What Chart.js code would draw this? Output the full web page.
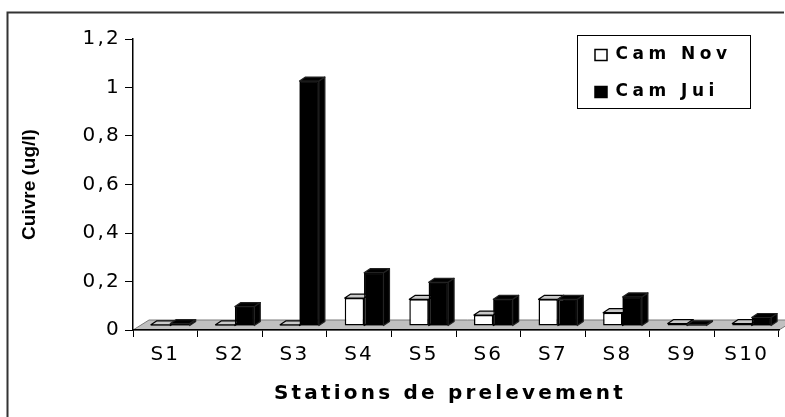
<!DOCTYPE html>
<html><head><meta charset="utf-8">
<script src="https://cdn.jsdelivr.net/npm/chart.js@4.4.1/dist/chart.umd.min.js"></script>
<style>html,body{margin:0;padding:0;background:#fff;overflow:hidden}#wrap{width:785px;height:417px;position:relative}</style>
</head><body><div id="wrap"><canvas id="c" width="785" height="417"></canvas></div>
<script>
const categories = ['S1','S2','S3','S4','S5','S6','S7','S8','S9','S10'];
const camNov = [0.005, 0.005, 0.005, 0.115, 0.11, 0.045, 0.11, 0.055, 0.01, 0.01];
const camJui = [0.01, 0.08, 1.01, 0.22, 0.18, 0.11, 0.11, 0.12, 0.005, 0.035];
const seriesNames = ['Cam Nov', 'Cam Jui'];
const yTicks = [0, 0.2, 0.4, 0.6, 0.8, 1, 1.2];
const xTitle = 'Stations de prelevement';
const yTitle = 'Cuivre (ug/l)';

const canvas = document.getElementById('c');
const ctx = canvas.getContext('2d');
// emulate the horizontally widened lettering of the original
const origFill = ctx.fillText;
ctx.fillText = function (text, x, y) {
  const prev = this.letterSpacing;
  let sp = '2.2px';
  if (text === yTitle) sp = '0px';
  else if (text === xTitle) { sp = '3.2px'; x -= 6; }
  else if (/bold/.test(this.font)) sp = '4.5px';
  this.letterSpacing = sp;
  origFill.call(this, text, x, y);
  this.letterSpacing = prev;
};

const fmt = v => (Math.round(v * 10) / 10).toString().replace('.', ',');
const SHIFT = {dx: 5, dy: -4};
const DEPTH = {dx: 6, dy: -4};
const FLOOR = {dx: 16, dy: -10};
const faceStyles = [
  {top: '#c8c8c8', side: '#ffffff', stroke: '#000000'},
  {top: '#000000', side: '#000000', stroke: '#222222'}
];

function drawFaces(c, el, st) {
  const p = el.getProps(['x', 'y', 'base', 'width'], true);
  const l = p.x - p.width / 2, r = p.x + p.width / 2;
  const t = Math.min(p.y, p.base), b = Math.max(p.y, p.base);
  c.strokeStyle = st.stroke;
  c.beginPath();
  c.moveTo(r, t); c.lineTo(r + DEPTH.dx, t + DEPTH.dy); c.lineTo(r + DEPTH.dx, b + DEPTH.dy); c.lineTo(r, b); c.closePath();
  c.fillStyle = st.side; c.fill(); c.stroke();
  c.beginPath();
  c.moveTo(l, t); c.lineTo(l + DEPTH.dx, t + DEPTH.dy); c.lineTo(r + DEPTH.dx, t + DEPTH.dy); c.lineTo(r, t); c.closePath();
  c.fillStyle = st.top; c.fill(); c.stroke();
}

const excel3d = {
  id: 'excel3d',
  afterLayout(chart) {
    const L = chart.legend;
    if (!L) return;
    L.left = 575; L.top = 26.5;
    L.width = 205; L.height = 100;
    L.right = L.left + L.width; L.bottom = L.top + L.height;
  },
  beforeDraw(chart) {
    const c = chart.ctx, a = chart.chartArea;
    c.save();
    c.strokeStyle = '#333'; c.lineWidth = 2;
    c.beginPath(); c.moveTo(7.5, 417); c.lineTo(7.5, 12.5); c.lineTo(784, 12.5); c.stroke();
    const y0 = chart.scales.y.getPixelForValue(0);
    c.beginPath();
    c.moveTo(a.left, y0);
    c.lineTo(a.left + FLOOR.dx, y0 + FLOOR.dy);
    c.lineTo(a.right + FLOOR.dx, y0 + FLOOR.dy);
    c.lineTo(a.right, y0);
    c.closePath();
    c.fillStyle = '#c0c0c0'; c.fill();
    c.strokeStyle = '#7a7a7a'; c.lineWidth = 1; c.stroke();
    c.restore();
  },
  beforeDatasetsDraw(chart) {
    chart.ctx.save();
    chart.ctx.translate(SHIFT.dx, SHIFT.dy);
  },
  afterDatasetsDraw(chart) {
    const c = chart.ctx;
    const m0 = chart.getDatasetMeta(0), m1 = chart.getDatasetMeta(1);
    m0.data.forEach((el, i) => {
      c.save(); c.lineWidth = 1.2; c.lineJoin = 'round'; drawFaces(c, el, faceStyles[0]); c.restore();
      const el1 = m1.data[i];
      if (el1) {
        el1.draw(c);
        c.save(); c.lineWidth = 1.2; c.lineJoin = 'round'; drawFaces(c, el1, faceStyles[1]); c.restore();
      }
    });
    c.restore();
  },
  afterDraw(chart) {
    const L = chart.legend, c = chart.ctx;
    c.save();
    c.strokeStyle = '#000'; c.lineWidth = 1;
    c.strokeRect(Math.round(L.left + 2) + 0.5, Math.round(L.top + 8.5) + 0.5, 173, 73);
    c.restore();
  }
};

new Chart(canvas, {
  type: 'bar',
  data: {
    labels: categories,
    datasets: [
      {label: seriesNames[0], data: camNov, backgroundColor: '#ffffff', borderColor: '#000000', borderWidth: 1.5, borderSkipped: false},
      {label: seriesNames[1], data: camJui, backgroundColor: '#000000', borderColor: '#000000', borderWidth: 1.5, borderSkipped: false}
    ]
  },
  options: {
    responsive: false,
    devicePixelRatio: 1,
    animation: false,
    categoryPercentage: 0.6,
    barPercentage: 1.0,
    layout: {padding: {top: 39, right: 6, left: 0, bottom: 0}},
    plugins: {
      legend: {
        position: 'chartArea', align: 'start',
        labels: {boxWidth: 12, boxHeight: 11, padding: 20, color: '#000',
          font: {family: 'DejaVu Sans', size: 17, weight: 'bold'}}
      },
      tooltip: {enabled: false}
    },
    scales: {
      x: {
        grid: {display: true, drawOnChartArea: false, drawTicks: true, tickLength: 7, color: '#000', lineWidth: 1, offset: true},
        border: {display: true, color: '#000', width: 1.5},
        ticks: {color: '#000', font: {family: 'DejaVu Sans', size: 20}, padding: 6, maxRotation: 0, autoSkip: false},
        title: {display: true, text: xTitle, color: '#000', font: {family: 'DejaVu Sans', size: 20, weight: 'bold'}, padding: {top: 0, bottom: 11}},
        afterFit(s) { s.height = 87; }
      },
      y: {
        min: 0, max: 1.2,
        afterBuildTicks(s) { s.ticks = yTicks.map(v => ({value: v})); },
        grid: {display: true, drawOnChartArea: false, tickLength: 8, color: '#000', lineWidth: 1},
        border: {display: true, color: '#000', width: 1.5},
        ticks: {color: '#000', font: {family: 'DejaVu Sans', size: 20}, padding: 4, callback: v => fmt(v)},
        title: {display: true, text: yTitle, color: '#000', font: {family: 'Liberation Sans', size: 19, weight: 'bold'}, padding: {top: 18, bottom: 0}},
        afterFit(s) { s.width = 133; }
      }
    }
  },
  plugins: [excel3d]
});
</script>
</body></html>
